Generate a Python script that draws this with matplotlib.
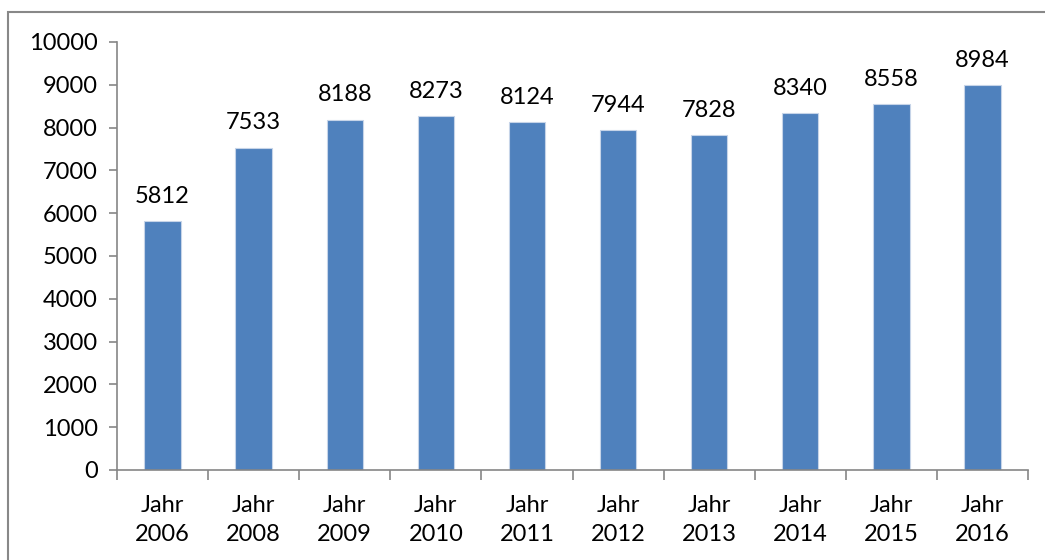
import matplotlib.pyplot as plt
from matplotlib.patches import Rectangle

plt.rcParams['font.family'] = ['Lato', 'DejaVu Sans']

# daten
jahre = ["Jahr\n2006", "Jahr\n2008", "Jahr\n2009", "Jahr\n2010", "Jahr\n2011",
         "Jahr\n2012", "Jahr\n2013", "Jahr\n2014", "Jahr\n2015", "Jahr\n2016"]
werte = [5812, 7533, 8188, 8273, 8124, 7944, 7828, 8340, 8558, 8984]
y_ticks = [0, 1000, 2000, 3000, 4000, 5000, 6000, 7000, 8000, 9000, 10000]

fig = plt.figure(figsize=(10.45, 5.6), dpi=100)
ax = fig.add_axes([117 / 1045, 90 / 560, 911 / 1045, 428 / 560])

x = range(len(werte))
bars = ax.bar(x, werte, width=0.4, color="#4F81BD", edgecolor="#C6D4E8", linewidth=0.8)

# werte über den balken
for xi, v in zip(x, werte):
    ax.text(xi, v + 330, str(v), ha="center", va="bottom", fontsize=17)

ax.set_xlim(-0.5, len(werte) - 0.5)
ax.set_ylim(0, 10000)
ax.set_yticks(y_ticks)
ax.set_yticklabels([str(t) for t in y_ticks], fontsize=17)
ax.set_xticks(list(x))
ax.set_xticklabels(jahre, fontsize=17, linespacing=1.45)
ax.tick_params(axis="x", length=0, pad=18)
ax.tick_params(axis="y", length=6, width=1.2, color="#868686", pad=8)

# ticks zwischen den kategorien
ax.set_xticks([i - 0.5 for i in range(len(werte) + 1)], minor=True)
ax.tick_params(axis="x", which="minor", length=7, width=1.2, color="#868686")

for s in ["top", "right"]:
    ax.spines[s].set_visible(False)
for s in ["left", "bottom"]:
    ax.spines[s].set_color("#868686")
    ax.spines[s].set_linewidth(1.2)

# rahmen
fig.patches.append(Rectangle((8 / 1045, -0.1), 1.2, 1 - 12 / 560 + 0.1,
                             transform=fig.transFigure, fill=False,
                             edgecolor="#888888", linewidth=1.5))

fig.savefig("out.png", dpi=100)
